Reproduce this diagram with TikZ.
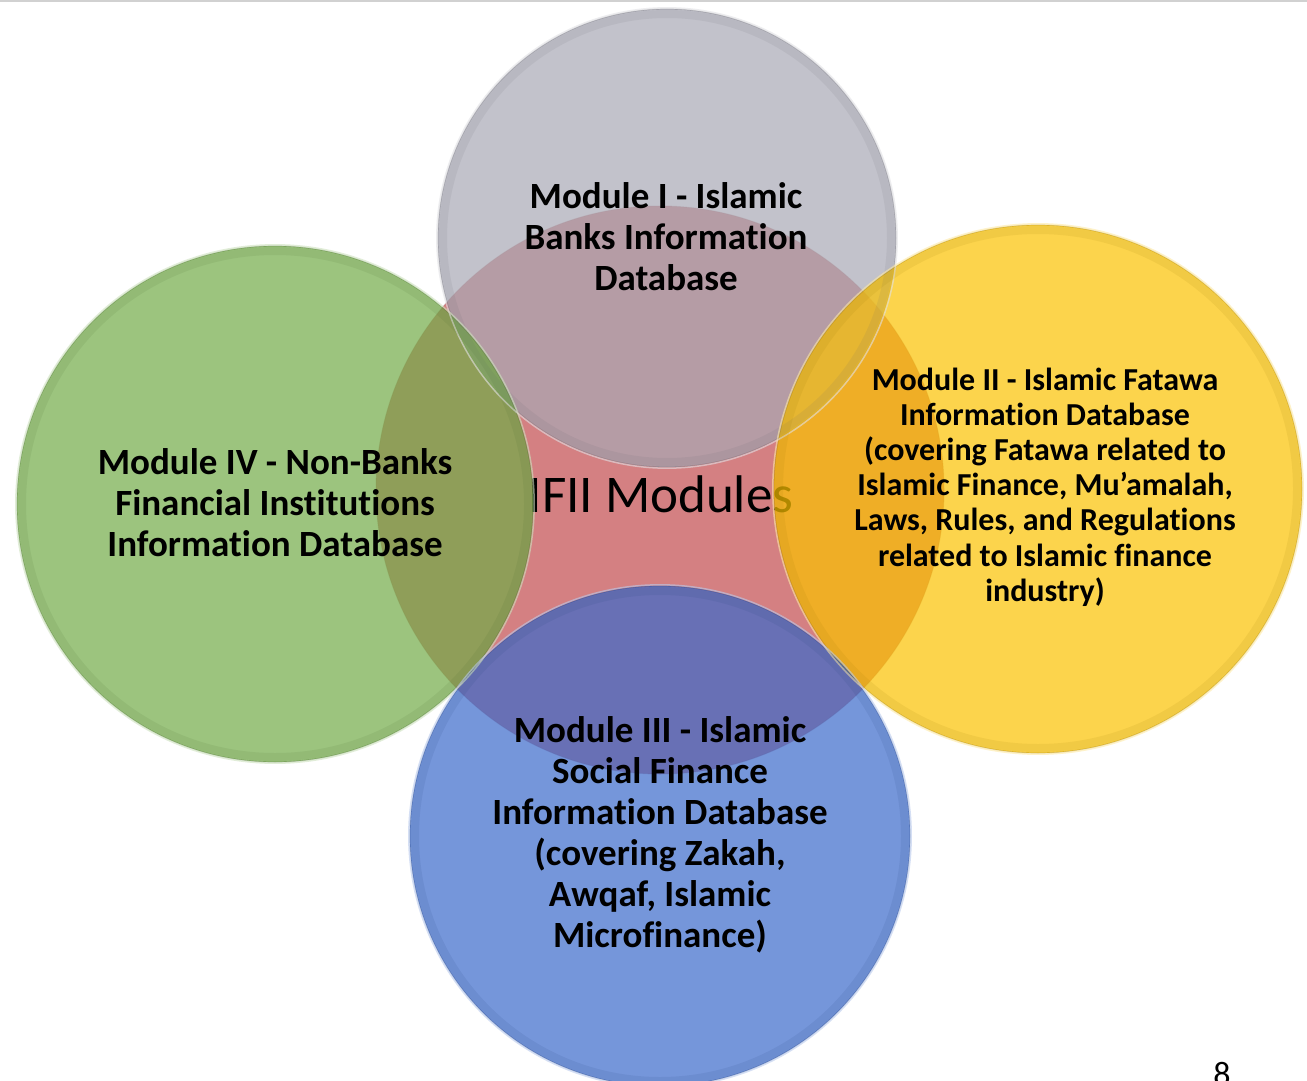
\documentclass[tikz,border=0pt]{standalone}
\usepackage{fontspec}
\setmainfont{Carlito}[RawFeature=-liga]
\definecolor{cred}{RGB}{212,128,130}
\definecolor{cgray}{RGB}{169,169,181}
\definecolor{cgreen}{RGB}{115,172,72}
\definecolor{cyellow}{RGB}{251,194,0}
\definecolor{cblue}{RGB}{59,106,203}
\begin{document}
\begin{tikzpicture}[x=1pt,y=-1pt,
  disc/.style={circle, inner sep=0pt, fill opacity=0.7, draw opacity=0.4, line width=1.2pt},
  lbl/.style={align=center, font=\bfseries\fontsize{37}{41}\selectfont, inner sep=0pt, text=black},
  lblsmall/.style={align=center, font=\bfseries\fontsize{32}{35.2}\selectfont, inner sep=0pt, text=black},
]
\useasboundingbox (0,0) rectangle (1307,1081);
\fill[white] (0,0) rectangle (1307,1081);
\draw[line width=1.5pt, black!18] (0,0.8) -- (1307,0.8);

% centre circle
\node[circle, inner sep=0pt, minimum size=568pt, fill=cred, draw=cred!80!black, draw opacity=0.35, line width=1pt] (hub) at (660,490) {};
\node[font=\fontsize{53}{56}\selectfont, inner sep=0pt] (hubtxt) at (661,494) {IFII Modules};

% outer circles
\node[disc, minimum size=458pt, fill=cgray, draw=cgray!70!black] (m1) at (667,238) {};
\node[disc, minimum size=516pt, fill=cgreen, draw=cgreen!70!black] (m4) at (275,504) {};
\node[disc, minimum size=528pt, fill=cyellow, draw=cyellow!70!black] (m2) at (1038,489) {};
\node[disc, minimum size=500pt, fill=cblue, draw=cblue!70!black] (m3) at (660,836) {};

% bevel rings
\foreach \c/\x/\y/\r in {cgray/667/238/229, cgreen/275/504/258, cyellow/1038/489/264, cblue/660/836/250}{
  \draw[\c!60!black, draw opacity=0.10, line width=8pt] (\x,\y) circle[radius=\r-5];
  \draw[\c!35, draw opacity=0.6, line width=1.5pt] (\x,\y) circle[radius=\r+1.2];
}

% labels
\node[lbl] (t1) at (666,237) {Module I - Islamic\\Banks Information\\Database};
\node[lbl] (t4) at (275,503) {Module IV - Non-Banks\\Financial Institutions\\Information Database};
\node[lblsmall] (t2) at (1045,487) {Module II - Islamic Fatawa\\Information Database\\(covering Fatawa related to\\Islamic Finance, Mu’amalah,\\Laws, Rules, and Regulations\\related to Islamic finance\\industry)};
\node[lbl] (t3) at (660,835) {Module III - Islamic\\Social Finance\\Information Database\\(covering Zakah,\\Awqaf, Islamic\\Microfinance)};

\node[font=\fontsize{34}{36}\selectfont, anchor=base, inner sep=0pt] (pg) at (1222,1085) {8};
\end{tikzpicture}
\end{document}
